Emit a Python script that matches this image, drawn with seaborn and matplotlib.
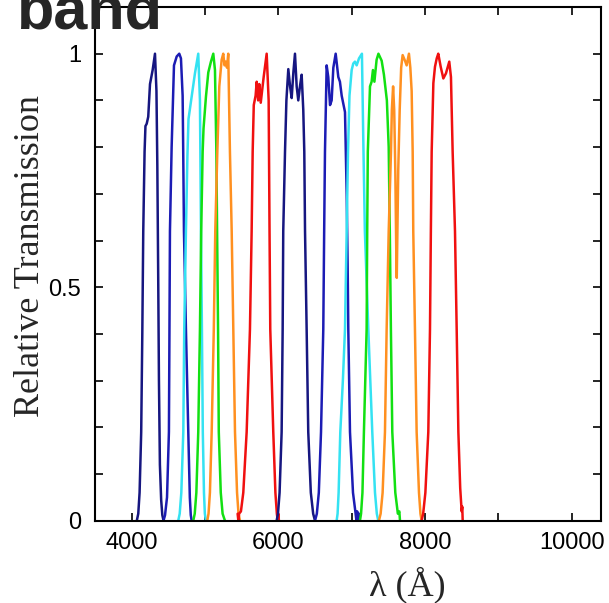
import numpy as np
import pandas as pd
import matplotlib
matplotlib.use("Agg")
import matplotlib.pyplot as plt
import seaborn as sns

# ---- data (wavelength in Angstrom, relative transmission) ----
navy1_wl = [4070, 4090, 4108, 4130, 4145, 4158, 4176, 4188, 4205, 4226, 4250, 4286, 4318, 4338, 4350, 4362, 4372, 4385, 4402, 4418, 4435]
navy1_t  = [0.0, 0.015, 0.06, 0.19, 0.40, 0.62, 0.79, 0.845, 0.85, 0.865, 0.935, 0.965, 1.0, 0.92, 0.76, 0.52, 0.30, 0.12, 0.045, 0.012, 0.0]

blue2_wl = [4434, 4455, 4482, 4508, 4515, 4522, 4545, 4577, 4614, 4649, 4672, 4695, 4703, 4713, 4740, 4772, 4793, 4806, 4818]
blue2_t  = [0.0, 0.012, 0.05, 0.19, 0.40, 0.62, 0.80, 0.975, 0.994, 1.0, 0.99, 0.91, 0.79, 0.62, 0.41, 0.19, 0.05, 0.012, 0.0]

cyan1_wl = [4635, 4655, 4677, 4704, 4717, 4740, 4760, 4775, 4818, 4863, 4908, 4931, 4945, 4958, 4970, 4986, 4998, 5013]
cyan1_t  = [0.0, 0.015, 0.06, 0.19, 0.41, 0.62, 0.78, 0.86, 0.908, 0.958, 1.0, 0.90, 0.62, 0.41, 0.19, 0.06, 0.015, 0.0]

green1_wl = [4840, 4860, 4882, 4908, 4931, 4948, 4968, 4980, 5013, 5045, 5081, 5113, 5136, 5155, 5165, 5178, 5188, 5215, 5240, 5272]
green1_t  = [0.0, 0.015, 0.06, 0.19, 0.41, 0.62, 0.79, 0.84, 0.908, 0.96, 0.983, 1.0, 0.965, 0.79, 0.62, 0.41, 0.19, 0.06, 0.015, 0.0]

orange1_wl = [5031, 5048, 5067, 5091, 5120, 5140, 5168, 5195, 5227, 5249, 5266, 5282, 5300, 5317, 5340, 5364, 5386, 5409, 5437, 5457, 5477]
orange1_t  = [0.0, 0.015, 0.06, 0.19, 0.41, 0.62, 0.79, 0.93, 0.987, 1.0, 0.975, 0.983, 0.97, 1.0, 0.79, 0.62, 0.41, 0.19, 0.06, 0.015, 0.0]

red1_wl = [5445, 5455, 5465, 5490, 5522, 5568, 5613, 5636, 5650, 5665, 5690, 5705, 5725, 5740, 5760, 5800, 5841, 5868, 5880, 5890, 5931, 5960, 5980, 5992, 6000, 6008]
red1_t  = [0.015, 0.0, 0.015, 0.02, 0.06, 0.19, 0.41, 0.62, 0.79, 0.89, 0.91, 0.94, 0.90, 0.935, 0.895, 0.95, 1.0, 0.90, 0.62, 0.41, 0.19, 0.06, 0.015, 0.0, 0.015, 0.0]

navy3_wl = [5977, 5995, 6017, 6045, 6059, 6067, 6091, 6110, 6136, 6160, 6182, 6205, 6227, 6250, 6272, 6295, 6318, 6340, 6354, 6364, 6386, 6408, 6443, 6475, 6500]
navy3_t  = [0.0, 0.015, 0.06, 0.19, 0.41, 0.62, 0.79, 0.90, 0.967, 0.93, 0.905, 0.96, 1.0, 0.93, 0.90, 0.93, 0.955, 0.88, 0.79, 0.62, 0.41, 0.19, 0.06, 0.015, 0.0]

blue4_wl = [6500, 6525, 6552, 6582, 6613, 6625, 6636, 6659, 6681, 6705, 6727, 6750, 6782, 6818, 6840, 6864, 6909, 6932, 6945, 6954, 6977, 7018, 7050, 7065, 7075, 7090, 7100]
blue4_t  = [0.0, 0.015, 0.06, 0.19, 0.41, 0.62, 0.79, 0.975, 0.95, 0.89, 0.90, 0.97, 1.0, 0.95, 0.94, 0.91, 0.875, 0.70, 0.55, 0.41, 0.19, 0.06, 0.02, 0.0, 0.02, 0.0, 0.015]

cyan2_wl = [6795, 6808, 6822, 6845, 6880, 6909, 6932, 6950, 6970, 7000, 7022, 7045, 7068, 7100, 7140, 7158, 7180, 7227, 7281, 7318, 7343, 7363]
cyan2_t  = [0.0, 0.015, 0.06, 0.19, 0.30, 0.41, 0.62, 0.79, 0.91, 0.965, 0.979, 0.983, 0.975, 0.99, 1.0, 0.82, 0.62, 0.41, 0.19, 0.06, 0.015, 0.0]

green2_wl = [7113, 7128, 7147, 7167, 7204, 7212, 7220, 7250, 7272, 7290, 7310, 7340, 7365, 7409, 7440, 7480, 7505, 7520, 7535, 7554, 7595, 7630, 7650, 7659]
green2_t  = [0.0, 0.015, 0.06, 0.19, 0.41, 0.62, 0.79, 0.93, 0.94, 0.965, 0.94, 0.987, 1.0, 0.985, 0.955, 0.90, 0.80, 0.62, 0.41, 0.19, 0.06, 0.015, 0.02, 0.0]

orange2_wl = [7372, 7395, 7422, 7454, 7477, 7505, 7536, 7548, 7565, 7580, 7595, 7608, 7615, 7622, 7635, 7655, 7675, 7695, 7727, 7750, 7781, 7800, 7818, 7832, 7840, 7863, 7886, 7918, 7938, 7954]
orange2_t  = [0.0, 0.015, 0.06, 0.19, 0.41, 0.62, 0.79, 0.88, 0.93, 0.88, 0.75, 0.58, 0.52, 0.60, 0.75, 0.88, 0.97, 0.997, 0.985, 0.975, 1.0, 0.97, 0.92, 0.79, 0.62, 0.41, 0.19, 0.06, 0.015, 0.0]

red2_wl = [7954, 7975, 8005, 8045, 8068, 8080, 8091, 8114, 8136, 8160, 8181, 8214, 8250, 8286, 8331, 8354, 8377, 8409, 8432, 8455, 8480, 8500, 8508, 8514]
red2_t  = [0.0, 0.015, 0.06, 0.19, 0.41, 0.62, 0.79, 0.937, 0.972, 0.99, 1.0, 0.972, 0.947, 0.958, 0.983, 0.95, 0.79, 0.62, 0.41, 0.19, 0.07, 0.02, 0.03, 0.0]

band_names = ["navy1", "blue2", "cyan1", "green1", "orange1", "red1",
              "navy3", "blue4", "cyan2", "green2", "orange2", "red2"]
band_colors = ["#161680", "#1c1cb4", "#34e2f2", "#12e012", "#ff9020", "#f01010",
               "#161680", "#1c1cb4", "#34e2f2", "#12e012", "#ff9020", "#f01010"]

x_tick_values = [4000, 5000, 6000, 7000, 8000, 9000, 10000]
x_tick_labels = ["4000", "", "6000", "", "8000", "", "10000"]
y_tick_values = [0.0, 0.1, 0.2, 0.3, 0.4, 0.5, 0.6, 0.7, 0.8, 0.9, 1.0]
y_tick_labels = ["0", "", "", "", "", "0.5", "", "", "", "", "1"]

series = {
    "navy1": (navy1_wl, navy1_t), "blue2": (blue2_wl, blue2_t), "cyan1": (cyan1_wl, cyan1_t),
    "green1": (green1_wl, green1_t), "orange1": (orange1_wl, orange1_t), "red1": (red1_wl, red1_t),
    "navy3": (navy3_wl, navy3_t), "blue4": (blue4_wl, blue4_t), "cyan2": (cyan2_wl, cyan2_t),
    "green2": (green2_wl, green2_t), "orange2": (orange2_wl, orange2_t), "red2": (red2_wl, red2_t),
}

rows = []
for name in band_names:
    wl, t = series[name]
    for a, b in zip(wl, t):
        rows.append({"band": name, "wl": a, "t": b})
df = pd.DataFrame(rows)

sns.set_style("ticks")
plt.rcParams["font.family"] = ["Liberation Sans", "DejaVu Sans"]

fig = plt.figure(figsize=(6.09, 6.03), dpi=100)
ax = fig.add_axes([95 / 609, 1 - 520.7 / 603, 506 / 609, 513.7 / 603])

sns.lineplot(data=df, x="wl", y="t", hue="band", hue_order=band_names,
             palette=dict(zip(band_names, band_colors)), estimator=None,
             sort=False, legend=False, linewidth=1.8, ax=ax)

ax.set_xlim(3500, 10400)
ax.set_ylim(0, 1.1)
ax.set_xticks(x_tick_values)
ax.set_xticklabels(x_tick_labels)
ax.set_yticks(y_tick_values)
ax.set_yticklabels(y_tick_labels)
ax.tick_params(direction="in", top=True, right=True, length=6, width=1.2,
               labelsize=17, color="black", labelcolor="black")
ax.tick_params(axis="x", pad=8)
ax.tick_params(axis="y", pad=10)
for s in ax.spines.values():
    s.set_linewidth(1.5)
    s.set_color("black")
    s.set_visible(True)

ax.set_xlabel("λ (Å)", fontsize=26, family=["Liberation Serif", "DejaVu Serif"])
ax.set_ylabel("Relative Transmission", fontsize=26, family=["Liberation Serif", "DejaVu Serif"])
ax.xaxis.set_label_coords(0.617, -0.125)
ax.yaxis.set_label_coords(-0.128, 0.515)
ax.xaxis.label.set_va("center")
ax.yaxis.label.set_va("center")

fig.text(17 / 609, 1 - 28.3 / 603, "band", fontsize=44, fontweight="bold",
         ha="left", va="baseline", family=["Liberation Sans", "DejaVu Sans"])

fig.savefig("out.png", dpi=100)
